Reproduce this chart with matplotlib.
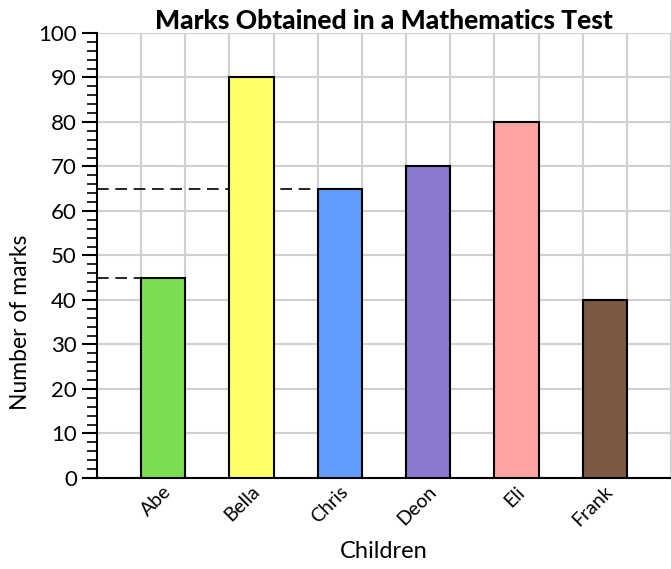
import matplotlib.pyplot as plt
import matplotlib.transforms as mtransforms
import numpy as np

children = ['Abe', 'Bella', 'Chris', 'Deon', 'Eli', 'Frank']
marks = [45, 90, 65, 70, 80, 40]
colors = ['#7bde52', '#ffff66', '#5f9eff', '#8a78cf', '#ffa3a3', '#7b5840']

plt.rcParams['font.family'] = ['Lato', 'DejaVu Sans']

fig = plt.figure(figsize=(6.71, 5.69), dpi=100)
ax = fig.add_axes([0.1446, 0.160, 0.8554, 0.782])

x = np.arange(len(children))
ax.bar(x, marks, width=0.5, color=colors, edgecolor='black', linewidth=1.5, zorder=3)

# dashed guide lines for Abe and Chris
ax.plot([-0.75, 0 - 0.25], [marks[0], marks[0]], color='black', linestyle=(0, (7, 4)), linewidth=1.2, zorder=2)
ax.plot([-0.75, 2 - 0.25], [marks[2], marks[2]], color='black', linestyle=(0, (7, 4)), linewidth=1.2, zorder=2)

ax.set_xlim(-0.75, 5.685)
ax.set_ylim(0, 100)
ax.set_yticks(np.arange(0, 101, 10))
ax.set_yticks(np.arange(0, 101, 2), minor=True)
ax.set_xticks(x)
ax.set_xticklabels(children, rotation=45, fontsize=14, ha='right', va='center', rotation_mode='anchor')
ax.set_xticks(np.arange(-0.25, 5.8, 0.5), minor=True)
ax.tick_params(axis='x', which='both', length=0, pad=8)
ax.tick_params(axis='y', which='major', length=11, width=1.5, labelsize=16)
ax.tick_params(axis='y', which='minor', length=7, width=1.2)
offset = mtransforms.ScaledTranslation(5 / 100, 0, fig.dpi_scale_trans)
for lbl in ax.get_xticklabels():
    lbl.set_transform(lbl.get_transform() + offset)

ax.grid(which='minor', axis='x', color='#d0d0d0', linewidth=1.5, zorder=0)
ax.grid(which='major', axis='y', color='#d0d0d0', linewidth=1.5, zorder=0)
ax.set_axisbelow(True)

ax.spines['top'].set_visible(False)
ax.spines['right'].set_visible(False)
ax.spines['left'].set_linewidth(1.5)
ax.spines['bottom'].set_linewidth(1.5)

ax.set_title('Marks Obtained in a Mathematics Test', fontsize=19, fontweight='black', pad=2)
ax.set_xlabel('Children', fontsize=17, labelpad=8)
ax.set_ylabel('Number of marks', fontsize=16.5)
ax.yaxis.set_label_coords(-0.115, 0.35)

fig.savefig('out.png')
